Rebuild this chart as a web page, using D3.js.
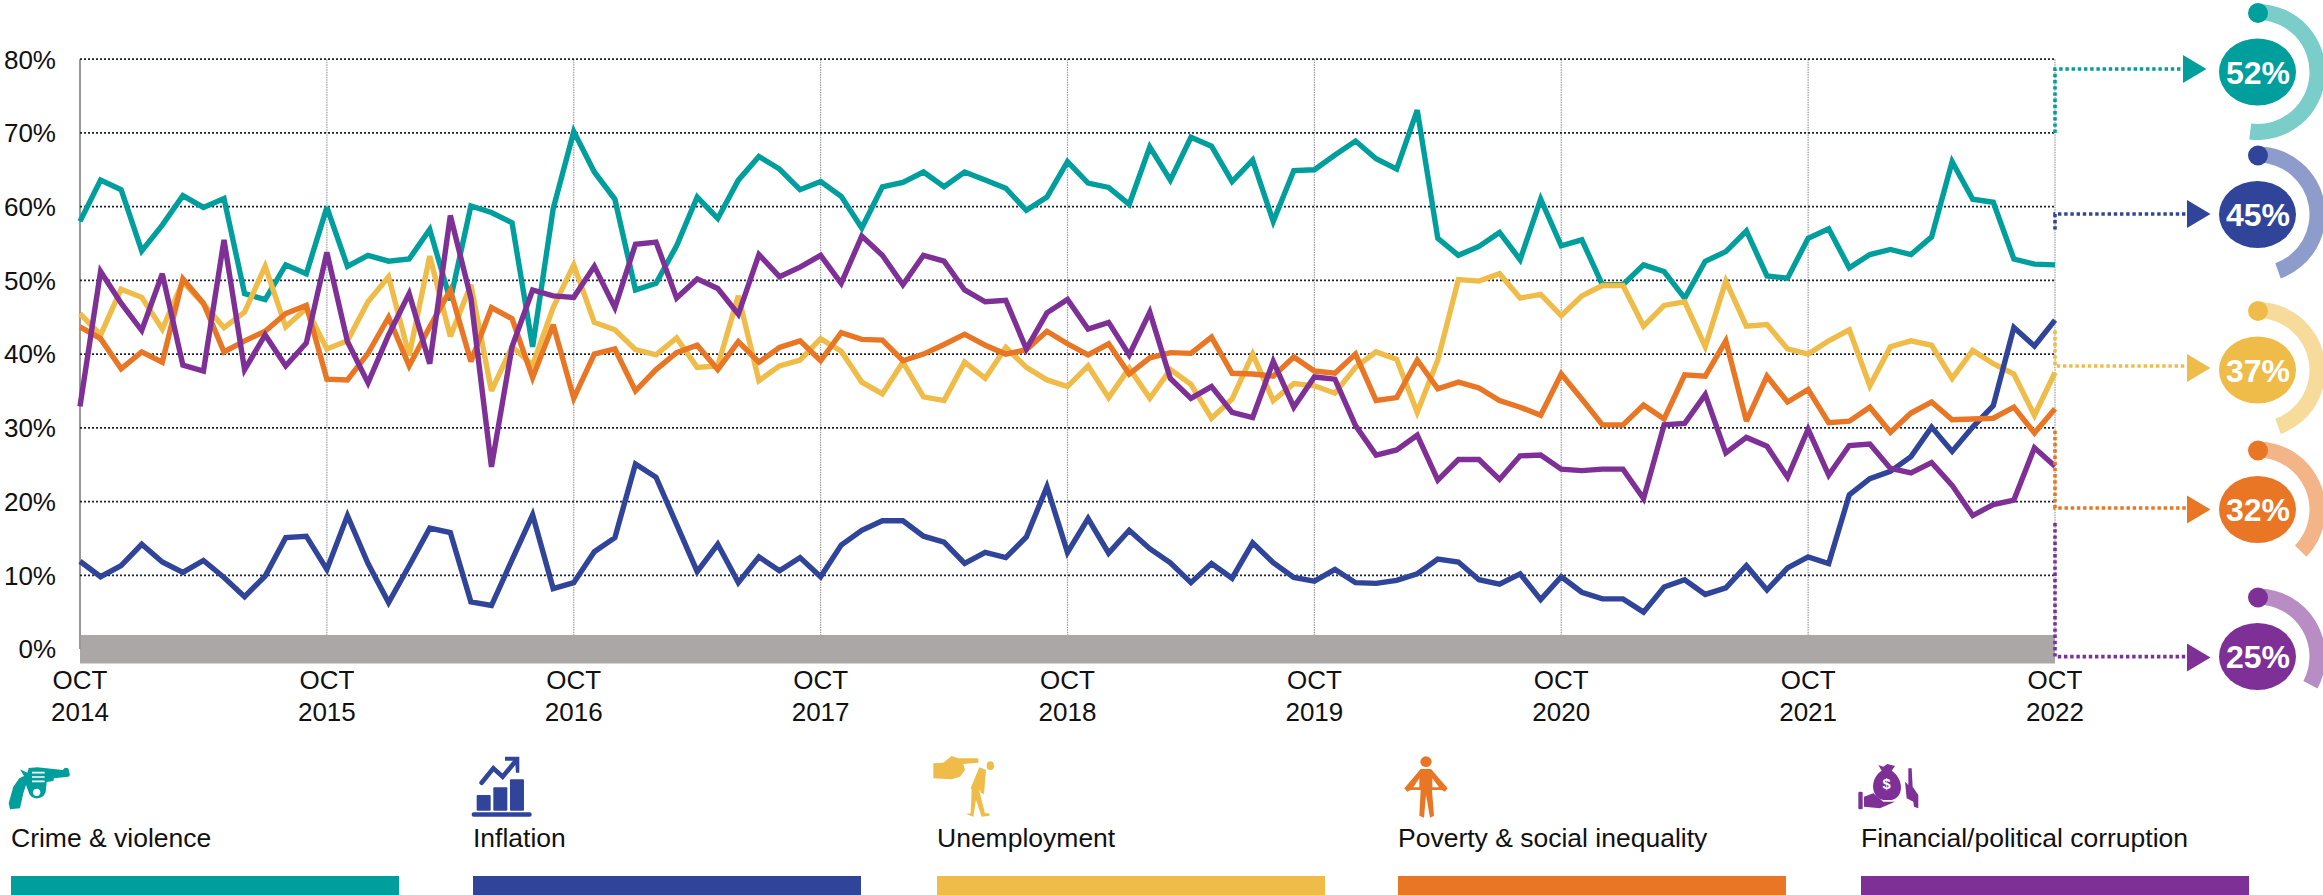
<!DOCTYPE html>
<html>
<head>
<meta charset="utf-8">
<script src="https://cdn.jsdelivr.net/npm/d3@7"></script>
<style>
  html, body { margin: 0; padding: 0; background: #fff; overflow: hidden; }
  text { font-family: "Liberation Sans", Arial, sans-serif; fill: #111; }
</style>
</head>
<body>
<svg id="chart" width="2323" height="895"></svg>
<script>
// monthly readings, Oct 2014 to Oct 2022
const crime = [58.0,63.6,62.3,54.0,57.5,61.5,59.9,61.1,48.2,47.4,52.1,50.9,59.9,51.9,53.4,52.6,52.9,56.9,47.3,60.1,59.2,57.8,41.0,59.7,70.2,64.7,61.0,48.7,49.6,54.7,61.3,58.4,63.6,66.8,65.1,62.3,63.4,61.4,57.1,62.7,63.3,64.7,62.7,64.7,63.6,62.5,59.5,61.3,66.1,63.2,62.6,60.3,68.1,63.6,69.4,68.2,63.4,66.3,58.0,64.9,65.0,67.0,68.9,66.5,65.1,73.1,55.7,53.4,54.6,56.5,52.8,61.0,54.7,55.5,49.4,49.4,52.1,51.2,47.6,52.6,53.9,56.7,50.6,50.3,55.7,57.0,51.7,53.5,54.2,53.5,55.9,66.1,61.0,60.6,52.9,52.2,52.1];
const inflation = [11.9,9.8,11.3,14.2,11.8,10.4,12.0,9.7,7.1,9.9,15.1,15.3,10.8,18.1,11.6,6.3,11.3,16.4,15.8,6.4,5.9,12.1,18.2,8.2,9.0,13.2,15.1,25.1,23.3,16.9,10.5,14.2,9.0,12.5,10.6,12.4,9.8,14.1,16.1,17.4,17.4,15.3,14.5,11.6,13.1,12.4,15.2,22.0,13.1,17.7,13.0,16.1,13.6,11.7,9.0,11.6,9.6,14.4,11.7,9.7,9.2,10.8,9.0,8.9,9.3,10.2,12.2,11.8,9.4,8.8,10.2,6.7,9.8,7.7,6.8,6.8,5.0,8.4,9.4,7.4,8.3,11.3,8.0,11.0,12.5,11.6,20.9,23.1,24.1,26.1,30.1,26.8,30.1,33.0,43.6,41.1,44.6];
const unemployment = [45.5,42.6,48.8,47.7,43.4,49.8,46.8,43.6,45.7,51.9,43.7,46.2,40.7,41.8,47.1,50.5,39.8,53.3,42.4,49.4,35.0,41.0,38.5,46.3,52.1,44.3,43.3,40.6,39.9,42.2,38.2,38.4,47.9,36.4,38.4,39.2,42.1,40.4,36.2,34.6,38.9,34.2,33.7,38.9,36.7,40.9,38.2,36.5,35.6,38.4,34.1,38.1,34.0,37.9,35.9,31.3,33.9,40.0,33.7,36.0,35.7,34.7,38.2,40.3,39.3,32.1,39.2,50.1,49.9,50.9,47.6,48.1,45.2,47.9,49.3,49.3,43.8,46.6,47.1,41.0,49.9,43.8,44.0,40.7,40.0,41.8,43.3,35.7,41.0,41.8,41.2,36.7,40.5,38.7,37.3,31.7,37.5];
const poverty = [43.7,42.1,38.0,40.3,38.9,50.2,46.9,40.3,41.8,43.1,45.5,46.6,36.6,36.5,40.1,45.0,38.4,43.7,48.7,39.0,46.3,44.8,36.8,44.0,34.0,40.0,40.7,35.0,37.9,40.2,41.2,37.9,41.7,38.9,40.9,41.8,39.1,42.9,42.0,41.9,39.1,40.0,41.3,42.7,41.2,40.0,40.6,43.1,41.4,39.9,41.4,37.3,39.5,40.2,40.1,42.3,37.4,37.3,37.0,39.6,37.7,37.4,40.0,33.7,34.1,39.2,35.3,36.2,35.4,33.7,32.8,31.7,37.3,33.9,30.4,30.4,33.1,31.2,37.2,37.0,41.8,30.9,37.0,33.5,35.2,30.7,30.9,32.8,29.4,32.0,33.5,31.1,31.2,31.3,32.8,29.3,32.6];
const corruption = [32.9,51.2,46.9,43.2,50.9,38.5,37.7,55.5,37.9,42.6,38.4,41.5,53.8,41.7,36.1,42.6,48.2,38.7,58.8,47.6,24.7,41.0,48.7,47.9,47.7,51.9,46.3,54.9,55.2,47.6,50.2,48.9,45.4,53.5,50.5,51.8,53.4,49.6,56.0,53.4,49.4,53.4,52.6,48.7,47.1,47.3,40.7,45.6,47.4,43.4,44.3,39.9,45.7,36.7,34.0,35.6,32.1,31.4,39.0,32.8,36.9,36.6,30.3,26.3,27.0,29.0,22.9,25.7,25.7,23.0,26.2,26.3,24.4,24.2,24.4,24.4,20.4,30.4,30.6,34.5,26.6,28.7,27.5,23.3,29.8,23.6,27.6,27.8,24.5,23.9,25.3,22.2,18.1,19.6,20.2,27.3,24.8];

const names = ["Crime & violence", "Inflation", "Unemployment", "Poverty & social inequality", "Financial/political corruption"];
const colors = ["#009E9C", "#30459A", "#F0BC49", "#E97624", "#7F3096"];
const ringColors = ["#7BCDC9", "#8E9CCB", "#F6DB9B", "#F3B487", "#B78DC4"];
const calloutValues = [52, 45, 37, 32, 25];
const ringDegrees = [187, 160, 160, 134, 118];
const yearTicks = [2014, 2015, 2016, 2017, 2018, 2019, 2020, 2021, 2022];
const percentTicks = [0, 10, 20, 30, 40, 50, 60, 70, 80];

const svg = d3.select("#chart");
const x = d3.scaleLinear().domain([0, 96]).range([80, 2055]);
const y = d3.scaleLinear().domain([0, 80]).range([649, 59.2]);

// grey floor band
svg.append("rect").attr("x", 80).attr("y", 635).attr("width", 1975).attr("height", 28.5).attr("fill", "#ABA7A7");

// year rules
svg.append("g").selectAll("line").data(yearTicks.slice(1)).enter().append("line")
    .attr("x1", d => x((d - 2014) * 12)).attr("x2", d => x((d - 2014) * 12))
    .attr("y1", y(80)).attr("y2", 635)
    .attr("stroke", "#9a9a9a").attr("stroke-width", 1.2).attr("stroke-dasharray", "1.5 1");

// left rule
svg.append("line").attr("x1", 80).attr("x2", 80).attr("y1", y(80)).attr("y2", y(0))
    .attr("stroke", "#999").attr("stroke-width", 2);

// horizontal dotted grid
svg.append("g").selectAll("line").data(percentTicks.slice(1)).enter().append("line")
    .attr("x1", 80).attr("x2", 2055)
    .attr("y1", d => y(d)).attr("y2", d => y(d))
    .attr("stroke", "#1c2230").attr("stroke-width", 1.8).attr("stroke-dasharray", "2 2");

// y labels
svg.append("g").selectAll("text").data(percentTicks).enter().append("text")
    .attr("x", 56).attr("y", d => y(d)).attr("dy", "0.36em")
    .attr("text-anchor", "end").attr("font-size", 26)
    .text(d => d + "%");

// x labels
const xLabel = svg.append("g").selectAll("text").data(yearTicks).enter().append("text")
    .attr("text-anchor", "middle").attr("font-size", 26)
    .attr("transform", d => "translate(" + x((d - 2014) * 12) + ",0)");
xLabel.append("tspan").attr("x", 0).attr("y", 689).text("OCT");
xLabel.append("tspan").attr("x", 0).attr("y", 721).text(d => d);

// lines, in the stacking order of the picture
const line = d3.line().x((d, i) => x(i)).y(d => y(d));
const drawOrder = [0, 2, 1, 3, 4];
const allSeries = [crime, inflation, unemployment, poverty, corruption];
svg.append("g").selectAll("path").data(drawOrder).enter().append("path")
    .attr("d", d => line(allSeries[d]))
    .attr("fill", "none")
    .attr("stroke", d => colors[d])
    .attr("stroke-width", 5.4)
    .attr("stroke-linejoin", "miter")
    .attr("stroke-miterlimit", 3);

// callouts on the right: dotted bracket, arrow, ring, bubble
const bracketTop = [133, 229.6, 330.6, 430.7, 523];
const bracketBottom = [69, 214, 366, 508, 656.6];
const arrowStart = [2183, 2187, 2187, 2187, 2187];
const bubbleCy = [72, 214.5, 370, 509.5, 656.5];
const arrowCy = [69, 214, 368, 509.5, 657.5];

const callout = svg.append("g").selectAll("g").data(d3.range(5)).enter().append("g");

callout.append("path")
    .attr("d", i => "M2055," + bracketTop[i] + "V" + bracketBottom[i] + "H" + arrowStart[i])
    .attr("fill", "none").attr("stroke", i => colors[i])
    .attr("stroke-width", 3.6).attr("stroke-dasharray", "3.4 2.8");

callout.append("path")
    .attr("d", i => "M" + arrowStart[i] + "," + (arrowCy[i] - 14) + "L" + (arrowStart[i] + 23.5) + "," + arrowCy[i] + "L" + arrowStart[i] + "," + (arrowCy[i] + 14) + "Z")
    .attr("fill", i => colors[i]);

const ring = d3.arc().innerRadius(52).outerRadius(68).startAngle(0);
callout.append("path")
    .attr("transform", i => "translate(2257.5," + bubbleCy[i] + ")")
    .attr("d", i => ring({ endAngle: ringDegrees[i] * Math.PI / 180 }))
    .attr("fill", i => ringColors[i]);

callout.append("circle")
    .attr("cx", 2258).attr("cy", i => bubbleCy[i] - 59).attr("r", 10)
    .attr("fill", i => colors[i]);

callout.append("ellipse")
    .attr("cx", 2257.5).attr("cy", i => bubbleCy[i]).attr("rx", 38.5).attr("ry", 33.5)
    .attr("fill", i => colors[i]);

callout.append("text")
    .attr("x", 2258).attr("y", i => bubbleCy[i]).attr("dy", "0.36em")
    .attr("text-anchor", "middle").attr("font-size", 32).attr("font-weight", "bold")
    .style("fill", "#fff")
    .text(i => calloutValues[i] + "%");

// legend
const legendX = [11, 473, 937, 1398, 1861];
const legend = svg.append("g").selectAll("g").data(d3.range(5)).enter().append("g");
legend.append("rect")
    .attr("x", i => legendX[i]).attr("y", 876).attr("width", 388).attr("height", 19)
    .attr("fill", i => colors[i]);
legend.append("text")
    .attr("x", i => legendX[i]).attr("y", 847).attr("font-size", 26.5)
    .text(i => names[i]);

// legend icons, sketched on a 3x grid
function icon(ox, color) {
    return svg.append("g")
        .attr("transform", "translate(" + ox + ",750) scale(0.3333)")
        .attr("fill", color);
}

// revolver
const gun = icon(0, colors[0]);
gun.append("path").attr("d", "M60,58L82,68L86,54L112,52L188,60L195,53L205,55L210,75L205,80L162,85L160,93L140,96L138,118A27,27 0 0 1 88,132L78,105L70,130L60,175L30,178L26,160L40,110L58,85L72,78Z");
gun.append("circle").attr("cx", 110).attr("cy", 127).attr("r", 11).attr("fill", "#fff");
gun.append("path").attr("d", "M96,68H134M96,81H134M96,94H134").attr("stroke", "#fff").attr("stroke-width", 5).attr("fill", "none");

// bars with rising arrow
const bars = icon(460, colors[1]);
bars.append("rect").attr("x", 50).attr("y", 135).attr("width", 42).attr("height", 47).attr("rx", 3);
bars.append("rect").attr("x", 100).attr("y", 112).attr("width", 42).attr("height", 70).attr("rx", 3);
bars.append("rect").attr("x", 150).attr("y", 88).attr("width", 42).attr("height", 94).attr("rx", 3);
bars.append("rect").attr("x", 35).attr("y", 187).attr("width", 180).attr("height", 13).attr("rx", 6);
bars.append("path").attr("d", "M65,98L100,55L128,80L168,32")
    .attr("fill", "none").attr("stroke", colors[1]).attr("stroke-width", 14).attr("stroke-linecap", "round");
bars.append("path").attr("d", "M135,20H178V68L168,68L165,32L135,32Z");

// pointing hand and slumped figure
const jobless = icon(920, colors[2]);
jobless.append("path").attr("d", "M40,40L70,38L95,18L115,25H175V38L130,42L135,60L120,80L95,88L40,85Z");
jobless.append("ellipse").attr("cx", 211).attr("cy", 47).attr("rx", 11).attr("ry", 13);
jobless.append("path").attr("d", "M178,52L198,60L192,132L182,128L180,120L178,122L195,190L208,190L208,197L185,200L168,150L160,200L138,192L152,190L155,118L152,115Z");

// person with empty pockets
const person = icon(1380, colors[3]);
person.append("ellipse").attr("cx", 138).attr("cy", 35).attr("rx", 17).attr("ry", 16);
person.append("path").attr("d", "M122,57H153L203,115L195,125L185,120H156L162,197L150,203L138,135L132,203L118,197L122,120H92L82,125L73,115Z");
person.append("path").attr("d", "M118,85L100,112H118ZM157,85L177,112H157Z").attr("fill", "#fff");

// money bag between two hands
const bag = icon(1840, colors[4]);
bag.append("path").attr("d", "M115,45L130,50L142,42L165,48L155,62C190,85 195,140 155,150H130C90,140 90,85 125,62Z");
bag.append("text").attr("x", 140).attr("y", 118).attr("text-anchor", "middle")
    .attr("font-size", 44).attr("font-weight", "bold").style("fill", "#fff").text("$");
bag.append("rect").attr("x", 55).attr("y", 125).attr("width", 13).attr("height", 53).attr("rx", 4);
bag.append("path").attr("d", "M72,140L100,130L130,155L165,155L120,175L72,170Z");
bag.append("path").attr("d", "M205,55H215L218,110L235,135V175L222,170L220,155L200,145L195,95L205,105Z");
</script>
</body>
</html>
